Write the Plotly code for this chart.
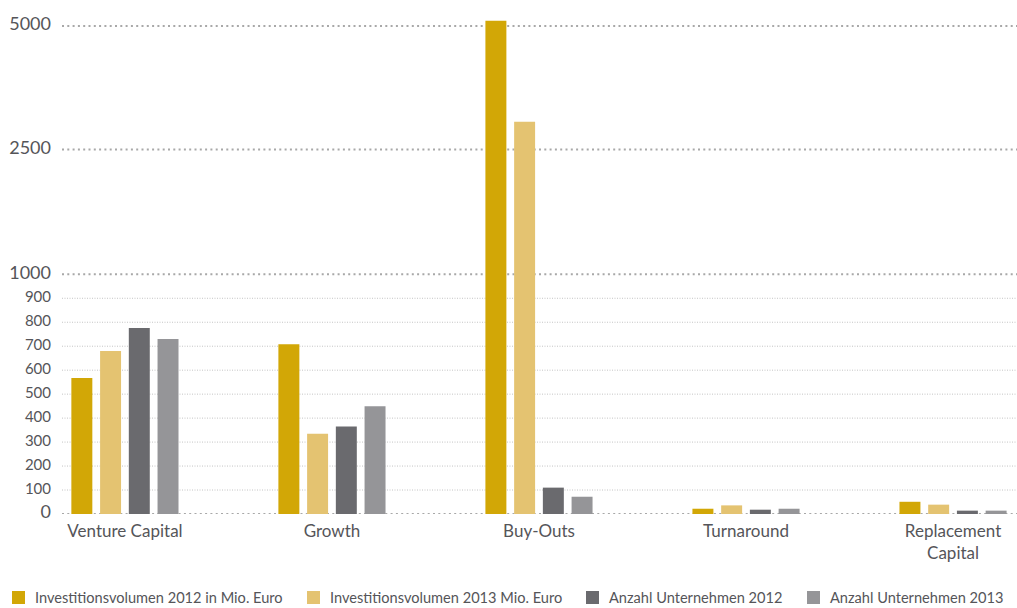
import numpy as np
import plotly.graph_objects as go

# Segments, series and values
categories = ["Venture Capital", "Growth", "Buy-Outs", "Turnaround", "Replacement<br>Capital"]
series_names = [
    "Investitionsvolumen 2012 in Mio. Euro",
    "Investitionsvolumen 2013 Mio. Euro",
    "Anzahl Unternehmen 2012",
    "Anzahl Unternehmen 2013",
]
invest_2012 = [567, 708, 5106, 22, 51]
invest_2013 = [680, 335, 3061, 36, 39]
anzahl_2012 = [776, 365, 110, 18, 14]
anzahl_2013 = [730, 449, 72, 22, 14]

colors = ["#D2A706", "#E4C371", "#6A6A6E", "#959598"]

minor_ticks = [100, 200, 300, 400, 500, 600, 700, 800, 900]
major_ticks = [0, 1000, 2500, 5000]

# Broken value axis: linear up to 1000, then compressed segments 1000-2500 and 2500-5000
break_src = [0, 1000, 2500, 5000]
break_dst = [0, 1000, 1521, 2036]


def scale(v):
    v = np.asarray(v, dtype=float)
    out = np.interp(v, break_src, break_dst)
    slope = (break_dst[-1] - break_dst[-2]) / (break_src[-1] - break_src[-2])
    return np.where(v > break_src[-1], break_dst[-1] + (v - break_src[-1]) * slope, out)


W, H = 1017, 608
M = dict(l=62, r=0, t=10, b=94)
plot_w = W - M["l"] - M["r"]
plot_h = H - M["t"] - M["b"]
plot_bottom = M["t"] + plot_h


def px_to_paper_y(py):
    return -(py - plot_bottom) / plot_h


def px_to_paper_x(px):
    return (px - M["l"]) / plot_w


x = np.arange(len(categories))
fig = go.Figure()
for name, vals, col in zip(series_names, [invest_2012, invest_2013, anzahl_2012, anzahl_2013], colors):
    fig.add_trace(go.Bar(
        x=x, y=scale(vals), name=name, marker=dict(color=col, line=dict(width=0)),
        customdata=vals, hovertemplate="%{customdata}<extra>" + name + "</extra>",
        showlegend=False,
    ))

# Gridlines: fine dots for minor values, heavier dots for the axis breaks
shapes = []
for t in minor_ticks:
    yv = float(scale(t))
    shapes.append(dict(type="line", xref="paper", x0=0, x1=1, yref="y", y0=yv, y1=yv,
                       line=dict(color="#c4c4c4", width=1, dash="1px,1.5px"), layer="below"))
for t in major_ticks:
    yv = float(scale(t))
    shapes.append(dict(type="line", xref="paper", x0=0, x1=1, yref="y", y0=yv, y1=yv,
                       line=dict(color="#a8a8a8", width=2, dash="2px,3.3px"), layer="below"))

# Legend row along the bottom edge
legend_x = [12, 307, 586, 807]
annotations = []
for lx, name, col in zip(legend_x, series_names, colors):
    shapes.append(dict(type="rect", xref="paper", yref="paper",
                       x0=px_to_paper_x(lx), x1=px_to_paper_x(lx + 13),
                       y0=px_to_paper_y(591), y1=px_to_paper_y(604),
                       fillcolor=col, line=dict(width=0)))
    annotations.append(dict(xref="paper", yref="paper",
                            x=px_to_paper_x(lx + 21), xanchor="left",
                            y=px_to_paper_y(597), yanchor="middle",
                            text=name, showarrow=False,
                            font=dict(size=14.6, color="#555559")))

tickvals = [float(scale(t)) for t in major_ticks + minor_ticks]
ticktext = [f"<span style='font-size:18px'>{t}</span>" for t in major_ticks] + \
           [f"<span style='font-size:15px'>{t}</span>" for t in minor_ticks]

text_color = "#555559"
fig.update_layout(
    width=W, height=H,
    margin=M,
    plot_bgcolor="white", paper_bgcolor="white",
    font=dict(family="Lato, sans-serif", color=text_color),
    barmode="group", bargap=0.445, bargroupgap=0.27,
    shapes=shapes,
    annotations=annotations,
    showlegend=False,
    xaxis=dict(range=[-0.304, 4.309], tickvals=list(x), ticktext=categories,
               tickfont=dict(size=17, color=text_color), showgrid=False, zeroline=False,
               showline=False, ticks="", ticklabelstandoff=5),
    yaxis=dict(range=[0, 2102.6], tickvals=tickvals, ticktext=ticktext,
               tickfont=dict(color=text_color), showgrid=False, zeroline=False,
               showline=False, ticks="", ticklabelstandoff=10),
)

fig.write_html("out.html")
